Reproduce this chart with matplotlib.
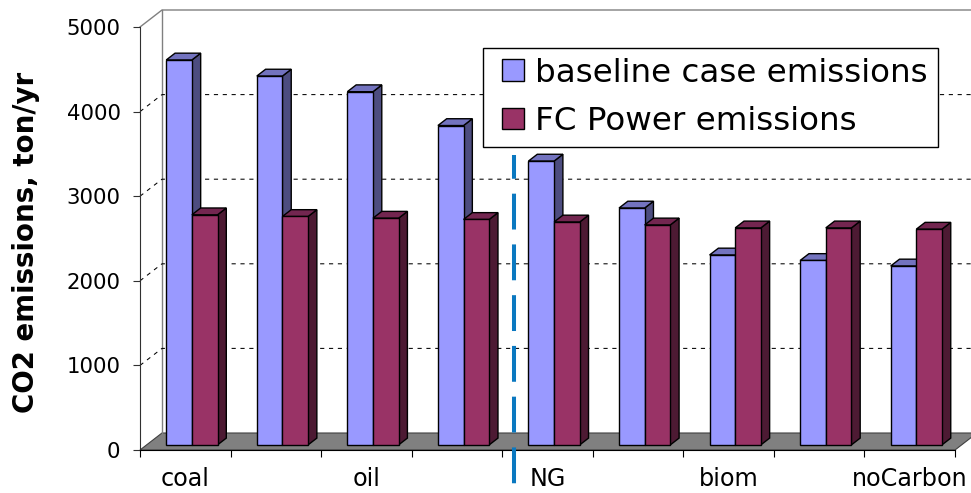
import matplotlib
matplotlib.use("Agg")
import matplotlib.pyplot as plt
from matplotlib.patches import Polygon, Patch, Rectangle
from matplotlib.legend_handler import HandlerPatch

# data
categories = ["coal", "", "oil", "", "NG", "", "biom", "", "noCarbon"]
baseline = [4550, 4360, 4175, 3775, 3355, 2800, 2245, 2180, 2115]
fc_power = [2720, 2700, 2680, 2665, 2635, 2600, 2565, 2565, 2550]
yticks = [0, 1000, 2000, 3000, 4000, 5000]
series_names = ["baseline case emissions", "FC Power emissions"]

# excel style 3d colours: front, side, top
blue = ("#9999FF", "#4D4D80", "#7373BF")
red = ("#993366", "#4D1A33", "#732650")

plt.rcParams["font.family"] = ["DejaVu Sans"]

W, H = 971, 493
fig = plt.figure(figsize=(W / 100, H / 100), dpi=100)
ax = fig.add_axes([140 / W, 43 / H, 815 / W, 423 / H])

n = len(categories)
ymax = yticks[-1]
ax.set_xlim(0, n)
ax.set_ylim(0, ymax)

# depth of the box in data units (22 px right, 17 px up)
DX = 22 / (815 / n)
DY = 17 / (423 / ymax)
f0, f1 = 0.3, 0.7      # bars sit in the middle of the depth
bar_w = 0.283

# floor
floor = Polygon([(0, 0), (n, 0), (n + DX, DY), (DX, DY)], closed=True,
                facecolor="#808080", edgecolor="#404040", lw=0.8,
                clip_on=False, zorder=1)
ax.add_patch(floor)

# back wall edges
ax.plot([DX, DX], [DY, ymax + DY], color="#808080", lw=1, clip_on=False, zorder=1)
ax.plot([0, DX, n + DX], [ymax, ymax + DY, ymax + DY], color="#808080", lw=1,
        clip_on=False, zorder=1)

# gridlines on side and back wall
for v in yticks[1:-1]:
    ax.plot([0, DX, n + DX], [v, v + DY, v + DY], color="black", lw=0.75,
            ls=(0, (4, 4.5)), clip_on=False, zorder=1.5)

# bars
ddx = (f1 - f0) * DX
ddy = (f1 - f0) * DY
bottom = f0 * DY
z = 3
for i in range(n):
    left = i + 0.5 + f0 * DX - bar_w
    for k, (vals, cols) in enumerate([(baseline, blue), (fc_power, red)]):
        x0 = left + k * bar_w
        x1 = x0 + bar_w
        top = bottom + vals[i]
        side = Polygon([(x1, bottom), (x1, top), (x1 + ddx, top + ddy), (x1 + ddx, bottom + ddy)],
                       closed=True, facecolor=cols[1], edgecolor="black", lw=1,
                       clip_on=False, zorder=z)
        lid = Polygon([(x0, top), (x1, top), (x1 + ddx, top + ddy), (x0 + ddx, top + ddy)],
                      closed=True, facecolor=cols[2], edgecolor="black", lw=1,
                      clip_on=False, zorder=z + 0.001)
        ax.add_patch(side)
        ax.add_patch(lid)
        ax.bar(x0, vals[i], width=bar_w, bottom=bottom, align="edge",
               color=cols[0], edgecolor="black", lw=1, zorder=z + 0.002)
        z += 0.01

# dashed separator between fossil and other fuels
sep_x = 4 + 0.55 * DX
ax.plot([sep_x, sep_x], [3490, -520], color="#0A78C0", lw=2.9,
        ls=(3, (8.9, 3.7)), clip_on=False, zorder=10)

# axes
for s in ["top", "right"]:
    ax.spines[s].set_visible(False)
ax.spines["left"].set_color("#303030")
ax.spines["bottom"].set_color("black")
ax.spines["left"].set_zorder(2)
ax.spines["bottom"].set_zorder(2)

ax.set_yticks(yticks)
ax.set_yticklabels([str(t) for t in yticks], fontsize=15.3)
ax.tick_params(axis="y", direction="out", length=5, width=0.8, pad=9, color="#303030")

ax.set_xticks(range(n + 1))
ax.set_xticklabels([])
ax.set_xticks([i + 0.5 for i in range(n)], minor=True)
ax.set_xticklabels(categories, minor=True, fontsize=17.2)
ax.tick_params(axis="x", which="major", direction="out", length=5, width=0.8)
ax.tick_params(axis="x", which="minor", length=0, pad=12.5)

ax.set_ylabel("CO2 emissions, ton/yr", fontsize=19.9, fontweight="bold")
ax.yaxis.set_label_coords(-0.1227, 0.4905)


# legend swatch: a square sitting at the right end of the handle box
def square_swatch(legend, orig_handle, xdescent, ydescent, width, height, fontsize):
    s = 0.67 * fontsize
    return Rectangle((-xdescent + width - s, -ydescent + (height - s) / 2), s, s)


handles = [Patch(facecolor=blue[0], edgecolor="black", lw=1, label=series_names[0]),
           Patch(facecolor=red[0], edgecolor="black", lw=1, label=series_names[1])]
leg = fig.legend(handles=handles, loc="upper left", bbox_to_anchor=(483 / W, 1 - 48 / H),
                 fontsize=23.4, frameon=True, fancybox=False, edgecolor="black",
                 framealpha=1, borderpad=0.3, handlelength=0.95, handleheight=0.67,
                 handletextpad=0.36, labelspacing=0.53, borderaxespad=0,
                 handler_map={Patch: HandlerPatch(patch_func=square_swatch)})
leg.get_frame().set_linewidth(1)

fig.savefig("out.png", dpi=100)
